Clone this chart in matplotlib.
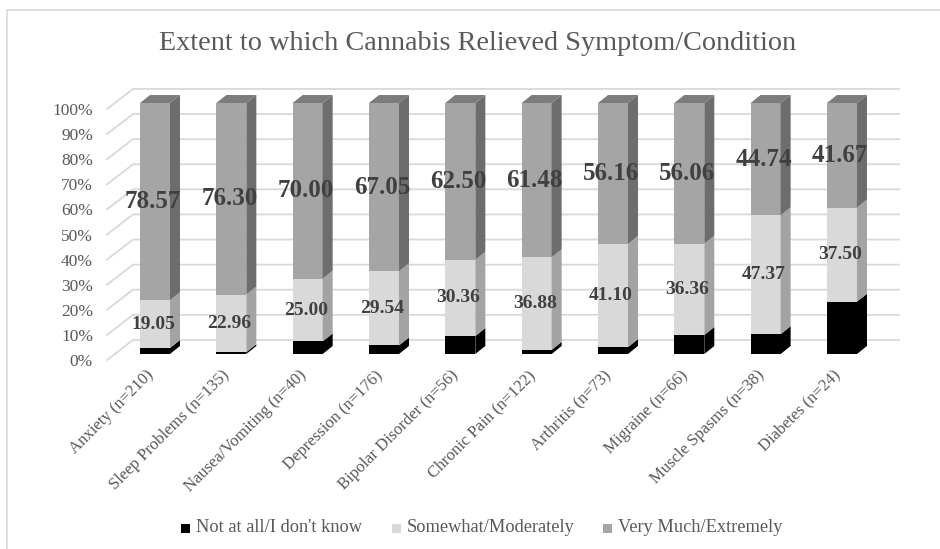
import matplotlib
matplotlib.use("Agg")
import matplotlib.pyplot as plt
from matplotlib.patches import Polygon, Rectangle
from matplotlib.lines import Line2D

categories = ["Anxiety (n=210)", "Sleep Problems (n=135)", "Nausea/Vomiting (n=40)",
              "Depression (n=176)", "Bipolar Disorder (n=56)", "Chronic Pain (n=122)",
              "Arthritis (n=73)", "Migraine (n=66)", "Muscle Spasms (n=38)", "Diabetes (n=24)"]
not_at_all = [2.38, 0.74, 5.00, 3.41, 7.14, 1.64, 2.74, 7.58, 7.89, 20.83]
somewhat = [19.05, 22.96, 25.00, 29.54, 30.36, 36.88, 41.10, 36.36, 47.37, 37.50]
very_much = [78.57, 76.30, 70.00, 67.05, 62.50, 61.48, 56.16, 56.06, 44.74, 41.67]
series_names = ["Not at all/I don't know", "Somewhat/Moderately", "Very Much/Extremely"]
yticks = [0, 10, 20, 30, 40, 50, 60, 70, 80, 90, 100]
title = "Extent to which Cannabis Relieved Symptom/Condition"

SERIF = ["Liberation Serif", "DejaVu Serif"]
front_cols = ["#000000", "#d9d9d9", "#a5a5a5"]
side_cols = ["#000000", "#a3a3a3", "#6d6d6d"]
top_cols = ["#1a1a1a", "#bfbfbf", "#7c7c7c"]
TXT = "#595959"
LBL = "#404040"

W, H = 940, 549
fig = plt.figure(figsize=(W / 100, H / 100), dpi=100)
ax = fig.add_axes([0, 0, 1, 1])
px_per_cat = 76.33
px_per_pct = 2.51
x0_px, y0_px = 155.0, 354.0
ax.set_xlim(-x0_px / px_per_cat, (W - x0_px) / px_per_cat)
ax.set_ylim((y0_px - H) / px_per_pct, y0_px / px_per_pct)
ax.axis("off")

# border
fig.add_artist(Line2D([7 / W, 1], [1 - 10 / H, 1 - 10 / H], transform=fig.transFigure, color="#d9d9d9", lw=1.2))
fig.add_artist(Line2D([7 / W, 7 / W], [0, 1 - 10 / H], transform=fig.transFigure, color="#d9d9d9", lw=1.2))

# gridlines (3D wall)
xf = (107 - x0_px) / px_per_cat
xb = (133 - x0_px) / px_per_cat
xr = (899 - x0_px) / px_per_cat
front_dv = -2.4
back_dv = 5.6
for v in yticks:
    ax.plot([xf, xb, xr], [v + front_dv, v + back_dv, v + back_dv], color="#d9d9d9", lw=1.3, zorder=1)
    ax.text(xf - 14 / px_per_cat, v + front_dv - 0.8, f"{v}%", ha="right", va="center",
            fontsize=12.5, color=TXT, family=SERIF)

# bars
w = 15 / px_per_cat
dx = 10 / px_per_cat
dy = 8 / px_per_pct
for i in range(len(categories)):
    vals = [not_at_all[i], somewhat[i], very_much[i]]
    b = 0.0
    for k, v in enumerate(vals):
        t = b + v
        ax.add_patch(Rectangle((i - w, b), 2 * w, v, facecolor=front_cols[k], edgecolor="none", zorder=3))
        ax.add_patch(Polygon([(i + w, b), (i + w + dx, b + dy), (i + w + dx, t + dy), (i + w, t)],
                             closed=True, facecolor=side_cols[k], edgecolor="none", zorder=3))
        if k == 2:
            ax.add_patch(Polygon([(i - w, t), (i + w, t), (i + w + dx, t + dy), (i - w + dx, t + dy)],
                                 closed=True, facecolor=top_cols[k], edgecolor="none", zorder=3))
        b = t
    # labels
    s0 = not_at_all[i]
    ax.text(i - 2 / px_per_cat, s0 + somewhat[i] / 2, f"{somewhat[i]:.2f}", ha="center", va="center",
            fontsize=14, fontweight="bold", color=LBL, family=SERIF, zorder=5)
    s1 = s0 + somewhat[i]
    ax.text(i - 2 / px_per_cat, s1 + very_much[i] / 2, f"{very_much[i]:.2f}", ha="center", va="center",
            fontsize=18, fontweight="bold", color=LBL, family=SERIF, zorder=5)
    # category label
    ax.text(i - 4 / px_per_cat, -7.5, categories[i], rotation=45, rotation_mode="anchor",
            ha="right", va="center", fontsize=12, color=TXT, family=SERIF)

# title
fig.text(478 / W, 1 - 44 / H, title, ha="center", va="center", fontsize=20.3, color=TXT, family=SERIF)

# legend
leg_y = 1 - 528 / H
leg_items = [(185, 196), (396, 407), (607, 618)]
for k, (sx, tx) in enumerate(leg_items):
    fig.add_artist(Rectangle((sx / W - 4.5 / W, leg_y - 4.5 / H), 9 / W, 9 / H, transform=fig.transFigure,
                             facecolor=front_cols[k], edgecolor="none"))
    fig.text(tx / W, leg_y, series_names[k], ha="left", va="center", fontsize=13.2, color=TXT, family=SERIF)

fig.savefig("out.png", dpi=100)
